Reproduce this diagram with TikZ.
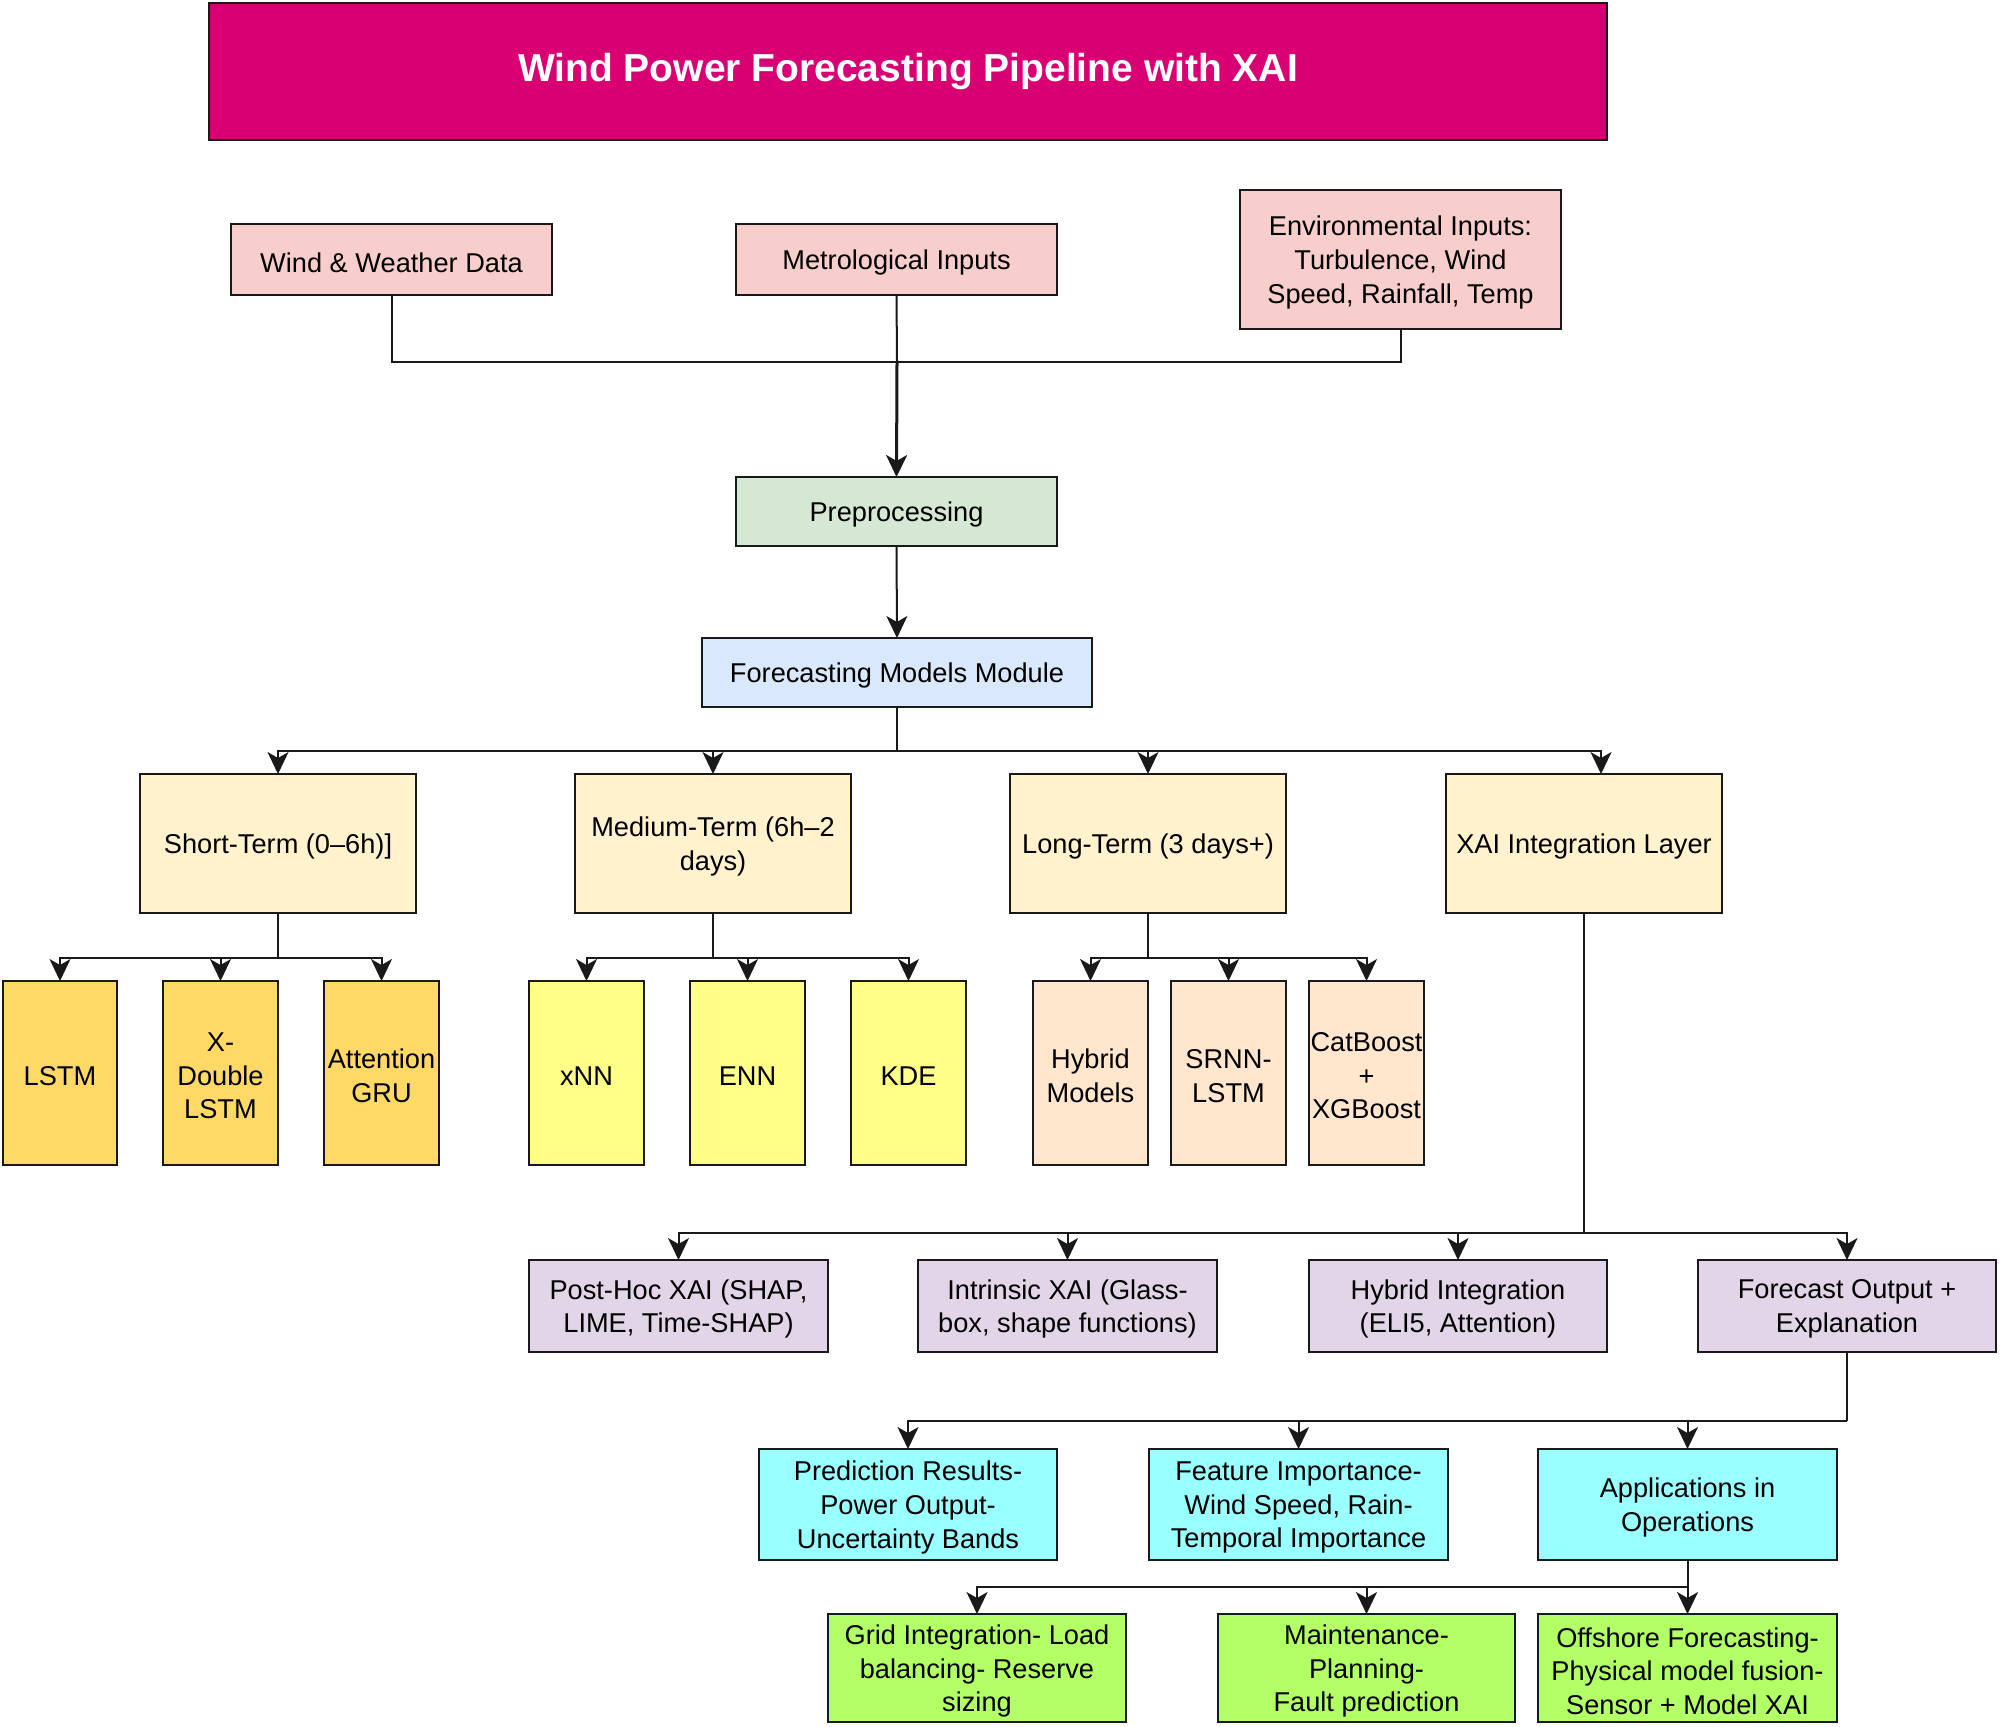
\documentclass[tikz,border=0pt]{standalone}
\usepackage{fontspec}
\setmainfont{Liberation Sans}
\usetikzlibrary{arrows.meta}
\definecolor{ctitle}{HTML}{D80073}
\definecolor{cpink}{HTML}{F8CECC}
\definecolor{cgreen}{HTML}{D5E8D4}
\definecolor{cblue}{HTML}{DAE8FC}
\definecolor{cyel}{HTML}{FFF2CC}
\definecolor{cgold}{HTML}{FFD966}
\definecolor{clyel}{HTML}{FFFF88}
\definecolor{cpeach}{HTML}{FFE6CC}
\definecolor{cpurp}{HTML}{E1D5E7}
\definecolor{ccyan}{HTML}{99FFFF}
\definecolor{clime}{HTML}{B3FF66}
\tikzset{
  box/.style={draw=black!90, line width=1.1pt, inner sep=0pt, outer sep=0pt},
  txt/.style={inner sep=0pt, align=center, font=\fontsize{13.6}{16.8}\selectfont},
  conn/.style={line width=1pt, draw=black!90},
  arr/.style={conn, -{Stealth[length=11pt,width=10.5pt,inset=3pt]}},
}
% \bx{name}{fill}{x1}{y1}{x2}{y2}{text}
\newcommand{\bx}[7]{\node[box, fill=#2, minimum width={(#5-#3)*0.5pt}, minimum height={(#6-#4)*0.5pt}] (#1) at ({(#3+#5)/2},{(#4+#6)/2}) {};
\node[txt] (#1-t) at ([yshift=-1.5pt]#1.center) {#7};}
\begin{document}
\begin{tikzpicture}[x=0.5pt, y=-0.5pt]
\useasboundingbox (0,0) rectangle (2000,1726);
% title
\node[box, fill=ctitle, minimum width={(1607-209)*0.5pt}, minimum height={(140-3)*0.5pt}, text=white, font=\fontsize{19.5}{23}\selectfont\bfseries] (title) at ({(209+1607)/2},{(3+140)/2}) {Wind Power Forecasting Pipeline with XAI};
% inputs
\bx{wind}{cpink}{231}{224}{552}{295}{Wind \& Weather Data}
\bx{metro}{cpink}{736}{224}{1057}{295}{Metrological Inputs}
\bx{env}{cpink}{1240}{190}{1561}{329}{Environmental Inputs:\\Turbulence, Wind\\Speed, Rainfall, Temp}
\bx{pre}{cgreen}{736}{477}{1057}{546}{Preprocessing}
\bx{fmm}{cblue}{702}{638}{1092}{707}{Forecasting Models Module}
% horizons
\bx{st}{cyel}{140}{774}{416}{913}{Short-Term (0–6h)]}
\bx{mt}{cyel}{575}{774}{851}{913}{Medium-Term (6h–2\\days)}
\bx{lt}{cyel}{1010}{774}{1286}{913}{Long-Term (3 days+)}
\bx{xai}{cyel}{1446}{774}{1722}{913}{XAI Integration Layer}
% short models
\bx{lstm}{cgold}{3}{981}{117}{1165}{LSTM}
\bx{xdl}{cgold}{163}{981}{278}{1165}{X-\\Double\\LSTM}
\bx{agru}{cgold}{324}{981}{439}{1165}{Attention\\GRU}
% medium models
\bx{xnn}{clyel}{529}{981}{644}{1165}{xNN}
\bx{enn}{clyel}{690}{981}{805}{1165}{ENN}
\bx{kde}{clyel}{851}{981}{966}{1165}{KDE}
% long models
\bx{hyb}{cpeach}{1033}{981}{1148}{1165}{Hybrid\\Models}
\bx{srnn}{cpeach}{1171}{981}{1286}{1165}{SRNN-\\LSTM}
\bx{cat}{cpeach}{1309}{981}{1424}{1165}{CatBoost\\+\\XGBoost}
% XAI row
\bx{post}{cpurp}{529}{1260}{828}{1352}{Post-Hoc XAI (SHAP,\\LIME, Time-SHAP)}
\bx{intr}{cpurp}{918}{1260}{1217}{1352}{Intrinsic XAI (Glass-\\box, shape functions)}
\bx{hint}{cpurp}{1309}{1260}{1607}{1352}{Hybrid Integration\\(ELI5, Attention)}
\bx{fout}{cpurp}{1698}{1260}{1996}{1352}{Forecast Output +\\Explanation}
% outputs row
\bx{pred}{ccyan}{759}{1449}{1057}{1560}{Prediction Results-\\Power Output-\\Uncertainty Bands}
\bx{feat}{ccyan}{1149}{1449}{1448}{1560}{Feature Importance-\\Wind Speed, Rain-\\Temporal Importance}
\bx{apps}{ccyan}{1538}{1449}{1837}{1560}{Applications in\\Operations}
% applications row
\bx{grid}{clime}{828}{1614}{1126}{1722}{Grid Integration- Load\\balancing- Reserve\\sizing}
\bx{maint}{clime}{1218}{1614}{1515}{1722}{Maintenance-\\Planning-\\Fault prediction}
\bx{off}{clime}{1538}{1614}{1837}{1722}{Offshore Forecasting-\\Physical model fusion-\\Sensor + Model XAI}
% connectors: inputs
\coordinate (jin) at (897,362);
\draw[conn] (wind.south) |- (jin) -| (env.south);
\draw[conn] (metro.south) -- (jin);
\draw[arr, line width=1.5pt] (jin) -- (pre.north);
\draw[arr] (pre.south) -- (fmm.north);
% forecasting module bus
\coordinate (b1) at (897,751);
\draw[conn] (fmm.south) -- (b1);
\draw[arr] (b1) -| (st.north);
\draw[arr] (b1) -| (mt.north);
\draw[arr] (b1) -| (lt.north);
\draw[arr] (b1) -| ([xshift=8.5pt]xai.north);
% short
\coordinate (bs) at (278,958);
\draw[conn] (st.south) -- (bs);
\draw[arr] (bs) -| (lstm.north);
\draw[arr] (bs) -| (xdl.north);
\draw[arr] (bs) -| (agru.north);
% medium
\coordinate (bm) at (713,958);
\draw[conn] (mt.south) -- (bm);
\draw[arr] (bm) -| (xnn.north);
\draw[arr] (bm) -| (enn.north);
\draw[arr] (bm) -| (kde.north);
% long
\coordinate (bl) at (1148,958);
\draw[conn] (lt.south) -- (bl);
\draw[arr] (bl) -| (hyb.north);
\draw[arr] (bl) -| (srnn.north);
\draw[arr] (bl) -| (cat.north);
% xai
\coordinate (bx) at (1584,1233);
\draw[conn] (xai.south) -- (bx);
\draw[arr] (bx) -| (post.north);
\draw[arr] (bx) -| (intr.north);
\draw[arr] (bx) -| (hint.north);
\draw[arr] (bx) -| (fout.north);
% forecast output
\coordinate (bf) at (1847,1421);
\draw[conn] (fout.south) -- (bf);
\draw[arr] (bf) -| (pred.north);
\draw[arr] (bf) -| (feat.north);
\draw[arr] (bf) -| (apps.north);
% applications
\coordinate (ba) at (1687.5,1587);
\draw[conn] (apps.south) -- (ba);
\draw[arr] (ba) -| (grid.north);
\draw[arr] (ba) -| (maint.north);
\draw[arr] (ba) -- (off.north);
\end{tikzpicture}
\end{document}
